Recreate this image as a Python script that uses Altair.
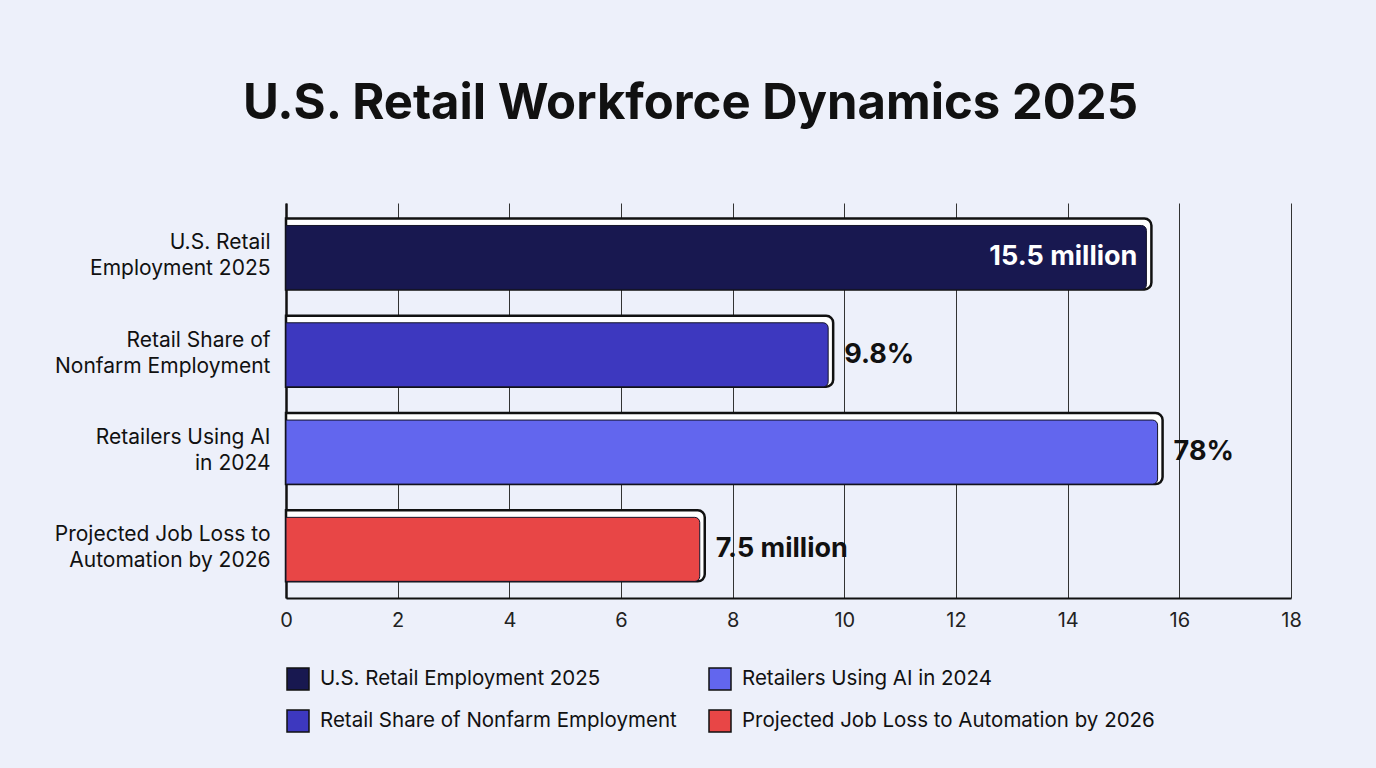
import altair as alt
import pandas as pd

categories = [
    "U.S. Retail Employment 2025",
    "Retail Share of Nonfarm Employment",
    "Retailers Using AI in 2024",
    "Projected Job Loss to Automation by 2026",
]
axis_lines = [
    ["U.S. Retail", "Employment 2025"],
    ["Retail Share of", "Nonfarm Employment"],
    ["Retailers Using AI", "in 2024"],
    ["Projected Job Loss to", "Automation by 2026"],
]
values = [15.5, 9.8, 15.7, 7.5]
value_labels = ["15.5 million", "9.8%", "78%", "7.5 million"]
label_inside = [True, False, False, False]
colors = ["#181850", "#3d38bf", "#6266ee", "#e84646"]
x_ticks = [0, 2, 4, 6, 8, 10, 12, 14, 16, 18]

df = pd.DataFrame({
    "cat": categories,
    "value": values,
    "label": value_labels,
    "inside": label_inside,
})

FONT = "Inter"

expr_parts = []
for c, lines in zip(categories, axis_lines):
    expr_parts.append("datum.label == '%s' ? [%s]" % (c, ", ".join("'%s'" % l for l in lines)))
label_expr = " : ".join(expr_parts) + " : datum.label"

y_enc = alt.Y(
    "cat:N",
    sort=categories,
    title=None,
    scale=alt.Scale(paddingInner=0, paddingOuter=0.03, align=1),
    axis=alt.Axis(
        labelExpr=label_expr,
        labelFont=FONT,
        labelFontSize=21,
        labelColor="#111111",
        labelLineHeight=26,
        labelPadding=16,
        labelOffset=-14,
        ticks=False,
        domainColor="#111111",
        domainWidth=2.5,
        grid=False,
        labelLimit=400,
    ),
)

x_enc = alt.X(
    "value:Q",
    title=None,
    scale=alt.Scale(domain=[0, 18], nice=False, zero=True),
    axis=alt.Axis(
        values=x_ticks,
        format="d",
        labelFlush=False,
        labelFont=FONT,
        labelFontSize=20,
        labelColor="#222222",
        labelPadding=12,
        ticks=False,
        domainColor="#111111",
        domainWidth=2,
        grid=True,
        gridColor="#333333",
        gridWidth=1,
    ),
)

base = alt.Chart(df)

outer = base.mark_bar(
    fill="white",
    stroke="#111111",
    strokeWidth=2.5,
    size=71,
    yOffset=-3.5,
    cornerRadiusTopRight=7,
    cornerRadiusBottomRight=7,
).encode(y=y_enc, x=x_enc, x2=alt.X2(datum=0))

inner = base.mark_bar(
    size=64,
    stroke="#15152a",
    strokeWidth=1,
    xOffset=-5,
    cornerRadiusTopRight=5,
    cornerRadiusBottomRight=5,
    opacity=1,
).encode(
    y=y_enc,
    x=x_enc,
    x2=alt.X2(datum=0),
    color=alt.Color(
        "cat:N",
        scale=alt.Scale(domain=categories, range=colors),
        legend=alt.Legend(
            orient="none",
            legendX=0,
            legendY=464,
            columns=2,
            title=None,
            symbolType="square",
            symbolSize=484,
            symbolStrokeColor="#111111",
            symbolStrokeWidth=1.5,
            symbolOpacity=1,
            labelFont=FONT,
            labelFontSize=20.5,
            labelColor="#111111",
            labelOffset=10,
            columnPadding=29,
            rowPadding=14,
            padding=0,
            labelLimit=600,
        ),
    ),
)

text_in = base.transform_filter("datum.inside").mark_text(
    align="right", baseline="middle", dx=-14, dy=0, font=FONT, fontSize=27,
    fontWeight="bold", color="white",
).encode(y=alt.Y("cat:N", sort=categories), x=alt.X("value:Q"), text="label:N")

text_out = base.transform_filter("!datum.inside").mark_text(
    align="left", baseline="middle", dx=11, dy=0, font=FONT, fontSize=27,
    fontWeight="bold", color="#111111",
).encode(y=alt.Y("cat:N", sort=categories), x=alt.X("value:Q"), text="label:N")

chart = alt.layer(outer, inner, text_in, text_out).properties(
    width=1005,
    height=395,
    title=alt.TitleParams(
        "U.S. Retail Workforce Dynamics 2025",
        font=FONT,
        fontSize=49,
        fontWeight="bold",
        color="#111111",
        anchor="middle",
        frame="group",
        dx=-98,
        baseline="alphabetic",
        offset=35,
    ),
    autosize=alt.AutoSizeParams(type="none"),
    padding={"left": 286, "top": 203, "right": 85, "bottom": 170},
).configure(background="#edf0fa").configure_view(stroke=None)

chart.save("out.html", embed_options={"renderer": "svg", "actions": False})
